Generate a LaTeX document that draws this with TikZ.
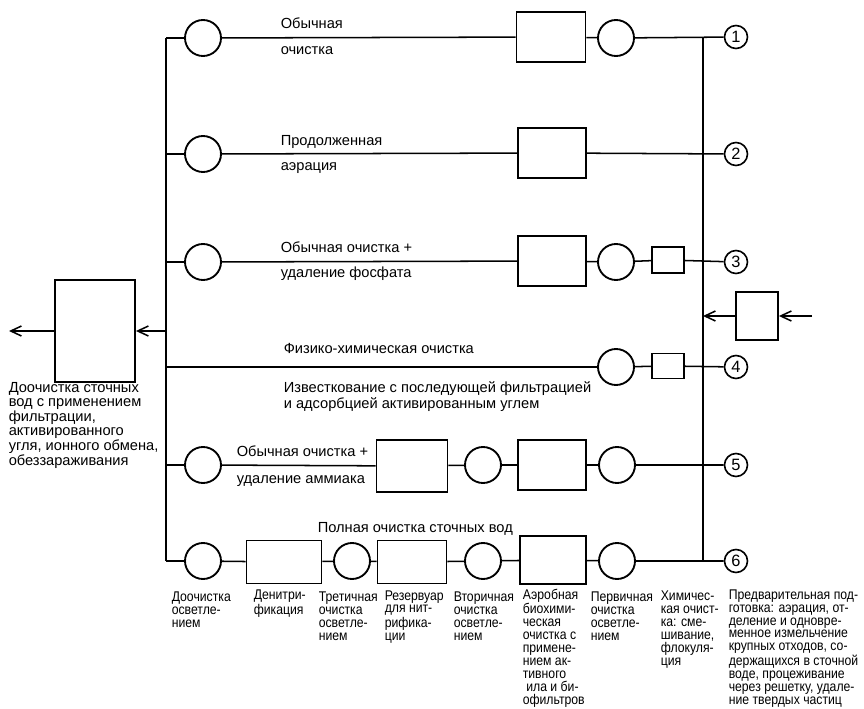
\documentclass[tikz,border=0pt]{standalone}
\usepackage{fontspec}
\setmainfont{Liberation Sans}
\newfontfamily\narrowsf{Liberation Sans}[FakeStretch=0.87]
\usetikzlibrary{arrows.meta, positioning}

\begin{document}
\begin{tikzpicture}[
    x=0.03cm, y=-0.03cm,
    line width=1.3pt,
    circ/.style={draw, circle, minimum size=1.08cm, inner sep=0pt, line width=1.6pt},
    tank/.style={draw, rectangle, minimum width=2.02cm, minimum height=1.48cm, inner sep=0pt, line width=1.6pt},
    sq/.style={draw, rectangle, minimum width=0.96cm, minimum height=0.8cm, inner sep=0pt, line width=1.6pt},
    num/.style={draw, circle, minimum size=0.69cm, inner sep=0pt, line width=1.4pt, font=\fontsize{14}{14}\selectfont},
    lbl/.style={anchor=base west, inner sep=0pt, align=left, font=\fontsize{12.5}{11}\selectfont},
    sub/.style={anchor=base west, inner sep=0pt, align=left, font=\narrowsf\fontsize{12}{11}\selectfont},
    arrow/.style={-{Straight Barb[length=3.2mm, width=3mm]}, line width=1.3pt}
]
\useasboundingbox (0,0) rectangle (864,709);

% collecting lines
\coordinate (lt) at (166,38);
\coordinate (lb) at (166,561);
\coordinate (rt) at (703,38);
\coordinate (rb) at (703,561);
\draw (lt) -- (lb);
\draw (rt) -- (rb);

% 1
\node[circ] (c11) at (203,38) {};
\node[tank, minimum width=2.07cm, minimum height=1.5cm] (b11) at (551,37) {};
\node[circ] (c12) at (616,38) {};
\node[num] (n1) at (736,37) {1};
\draw (lt) -- (c11) -- (b11) -- (c12) -- (n1);
\node[lbl] at (280,29) {Обычная};
\node[lbl] at (280,55) {очистка};

% 2
\node[circ] (c21) at (203,154) {};
\node[tank] (b21) at (552,153) {};
\node[num] (n2) at (736,154) {2};
\draw (lt |- c21) -- (c21) -- (b21) -- (n2);
\node[lbl] at (280,146) {Продолженная};
\node[lbl] at (280,171) {аэрация};

% 3
\node[circ] (c31) at (203,262) {};
\node[tank] (b31) at (552,261) {};
\node[circ] (c32) at (616,262) {};
\node[sq] (s31) at (668,260) {};
\node[num] (n3) at (736,262) {3};
\draw (lt |- c31) -- (c31) -- (b31) -- (c32) -- (s31) -- (n3);
\node[lbl] at (280,253) {Обычная очистка +};
\node[lbl] at (280,278) {удаление фосфата};

% 4
\node[circ] (c41) at (616,367) {};
\node[sq, minimum height=0.75cm] (s41) at (668,366) {};
\node[num] (n4) at (736,367) {4};
\draw (lt |- c41) -- (c41) -- (s41) -- (n4);
\node[lbl] at (283,354) {Физико-химическая очистка};
\node[lbl] at (283,408) {Известкование с последующей фильтрацией\\и адсорбцией активированным углем};

% 5
\node[circ] (c51) at (203,465) {};
\node[tank, minimum width=2.13cm, minimum height=1.56cm] (b51) at (412,466) {};
\node[circ] (c52) at (483,465) {};
\node[tank] (b52) at (552,465) {};
\node[circ] (c53) at (617,465) {};
\node[num] (n5) at (736,465) {5};
\draw (lt |- c51) -- (c51) -- (b51) -- (c52) -- (b52) -- (c53) -- (n5);
\node[lbl] at (236,456) {Обычная очистка +};
\node[lbl] at (236,483) {удаление аммиака};

% 6
\node[circ] (c61) at (203,561) {};
\node[tank, minimum width=2.25cm, minimum height=1.29cm] (b61) at (284,562) {};
\node[circ] (c62) at (352,561) {};
\node[tank, minimum width=2.07cm, minimum height=1.29cm] (b62) at (412,562) {};
\node[circ] (c63) at (483,561) {};
\node[tank, minimum width=1.98cm, minimum height=1.44cm] (b63) at (553,560) {};
\node[circ] (c64) at (617,561) {};
\node[num] (n6) at (736,561) {6};
\draw (lb) -- (c61) -- (b61) -- (c62) -- (b62) -- (c63) -- (b63) -- (c64) -- (n6);
\node[lbl] at (317,532) {Полная очистка сточных вод};

% captions below line 6 (base = last line)
\node[sub] at (171,627) {Доочистка\\осветле-\\нием};
\node[sub] at (253,614) {Денитри-\\фикация};
\node[sub] at (318,640) {Третичная\\очистка\\осветле-\\нием};
\node[sub] at (384,640) {Резервуар\\для нит-\\рифика-\\ции};
\node[sub] at (453,640) {Вторичная\\очистка\\осветле-\\нием};
\node[sub] at (522,704) {Аэробная\\биохими-\\ческая\\очистка с\\примене-\\нием ак-\\тивного\\\hspace{3pt}ила и би-\\офильтров};
\node[sub] at (590,640) {Первичная\\очистка\\осветле-\\нием};
\node[sub] at (660,665) {Химичес-\\кая очист-\\ка: сме-\\шивание,\\флокуля-\\ция};
\node[sub] at (728,704) {Предварительная под-\\готовка: аэрация, от-\\деление и одновре-\\менное измельчение\\крупных отходов, со-\\держащихся в сточной\\воде, процеживание\\через решетку, удале-\\ние твердых частиц};

% inlet and outlet
\node[draw, rectangle, minimum width=1.26cm, minimum height=1.44cm, line width=1.6pt] (inbox) at (757,316) {};
\coordinate (inx) at (812,316);
\draw[arrow] (inx) -- (inbox);
\draw[arrow] (inbox) -- (rt |- inbox);

\node[draw, rectangle, minimum width=2.4cm, minimum height=3.06cm, line width=1.6pt] (outbox) at (95,331) {};
\coordinate (outx) at (9,331);
\draw[arrow] (lt |- outbox) -- (outbox);
\draw[arrow] (outbox) -- (outx);
\node[lbl, font=\fontsize{12.5}{12.4}\selectfont] at (8,465) {Доочистка сточных\\вод с применением\\фильтрации,\\активированного\\угля, ионного обмена,\\обеззараживания};

\end{tikzpicture}
\end{document}
